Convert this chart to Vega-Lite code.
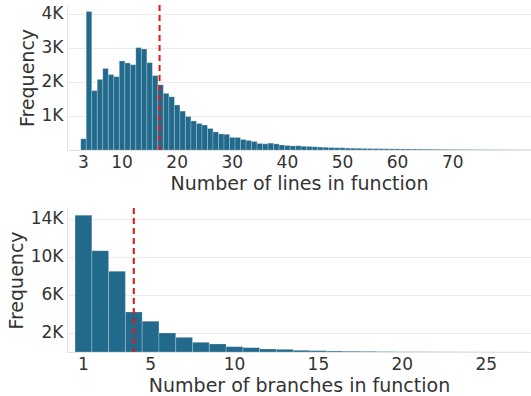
{
  "$schema": "https://vega.github.io/schema/vega-lite/v6.json",
  "padding": {"left": 7, "top": 4, "right": 0, "bottom": 2},
  "spacing": 14,
  "config": {
    "view": {"stroke": null},
    "font": "DejaVu Sans",
    "bar": {"binSpacing": 0},
    "axis": {
      "labelFont": "DejaVu Sans",
      "labelFontSize": 17,
      "labelColor": "#333333",
      "titleFont": "DejaVu Sans",
      "titleFontSize": 19,
      "titleFontWeight": "normal",
      "titleColor": "#333333",
      "ticks": false,
      "gridColor": "#ebebeb",
      "domainColor": "#e3e3e3",
      "labelPadding": 4,
      "titlePadding": 4
    }
  },
  "datasets": {
    "lines": [
      {"lines": 3, "count": 330}, {"lines": 4, "count": 4060}, {"lines": 5, "count": 1740},
      {"lines": 6, "count": 2070}, {"lines": 7, "count": 2390}, {"lines": 8, "count": 2210},
      {"lines": 9, "count": 2150}, {"lines": 10, "count": 2610}, {"lines": 11, "count": 2550},
      {"lines": 12, "count": 2500}, {"lines": 13, "count": 3000}, {"lines": 14, "count": 2960},
      {"lines": 15, "count": 2560}, {"lines": 16, "count": 2180}, {"lines": 17, "count": 1910},
      {"lines": 18, "count": 1660}, {"lines": 19, "count": 1560}, {"lines": 20, "count": 1320},
      {"lines": 21, "count": 1140}, {"lines": 22, "count": 980}, {"lines": 23, "count": 850},
      {"lines": 24, "count": 780}, {"lines": 25, "count": 730}, {"lines": 26, "count": 630},
      {"lines": 27, "count": 530}, {"lines": 28, "count": 470}, {"lines": 29, "count": 460},
      {"lines": 30, "count": 370}, {"lines": 31, "count": 370}, {"lines": 32, "count": 310},
      {"lines": 33, "count": 280}, {"lines": 34, "count": 250}, {"lines": 35, "count": 190},
      {"lines": 36, "count": 180}, {"lines": 37, "count": 200}, {"lines": 38, "count": 180},
      {"lines": 39, "count": 150}, {"lines": 40, "count": 130}, {"lines": 41, "count": 120},
      {"lines": 42, "count": 125}, {"lines": 43, "count": 110}, {"lines": 44, "count": 100},
      {"lines": 45, "count": 95}, {"lines": 46, "count": 85}, {"lines": 47, "count": 80},
      {"lines": 48, "count": 70}, {"lines": 49, "count": 68}, {"lines": 50, "count": 65},
      {"lines": 51, "count": 55}, {"lines": 52, "count": 52}, {"lines": 53, "count": 50},
      {"lines": 54, "count": 45}, {"lines": 55, "count": 42}, {"lines": 56, "count": 40},
      {"lines": 57, "count": 38}, {"lines": 58, "count": 35}, {"lines": 59, "count": 33},
      {"lines": 60, "count": 32}, {"lines": 61, "count": 30}, {"lines": 62, "count": 28},
      {"lines": 63, "count": 27}, {"lines": 64, "count": 25}, {"lines": 65, "count": 24},
      {"lines": 66, "count": 22}, {"lines": 67, "count": 20}, {"lines": 68, "count": 19},
      {"lines": 69, "count": 18}, {"lines": 70, "count": 16}, {"lines": 71, "count": 15},
      {"lines": 72, "count": 14}, {"lines": 73, "count": 13}, {"lines": 74, "count": 12},
      {"lines": 75, "count": 11}, {"lines": 76, "count": 10}, {"lines": 77, "count": 9},
      {"lines": 78, "count": 9}, {"lines": 79, "count": 8}, {"lines": 80, "count": 7},
      {"lines": 81, "count": 7}, {"lines": 82, "count": 6}, {"lines": 83, "count": 5},
      {"lines": 84, "count": 5}
    ],
    "branches": [
      {"branches": 1, "count": 14400}, {"branches": 2, "count": 10660}, {"branches": 3, "count": 8490},
      {"branches": 4, "count": 4210}, {"branches": 5, "count": 3230}, {"branches": 6, "count": 2000},
      {"branches": 7, "count": 1540}, {"branches": 8, "count": 1020}, {"branches": 9, "count": 840},
      {"branches": 10, "count": 560}, {"branches": 11, "count": 460}, {"branches": 12, "count": 320},
      {"branches": 13, "count": 280}, {"branches": 14, "count": 180}, {"branches": 15, "count": 140},
      {"branches": 16, "count": 100}, {"branches": 17, "count": 80}, {"branches": 18, "count": 70},
      {"branches": 19, "count": 45}, {"branches": 20, "count": 32}, {"branches": 21, "count": 28},
      {"branches": 22, "count": 22}, {"branches": 23, "count": 18}, {"branches": 24, "count": 14},
      {"branches": 25, "count": 10}, {"branches": 26, "count": 8}, {"branches": 27, "count": 6}
    ],
    "means": [
      {"metric": "lines", "mean": 16.9},
      {"metric": "branches", "mean": 4.03}
    ]
  },
  "vconcat": [
    {
      "width": 464,
      "height": 145,
      "layer": [
        {
          "data": {"name": "lines"},
          "mark": {"type": "bar", "color": "#226a8c", "stroke": "#ffffff", "strokeOpacity": 0.45, "strokeWidth": 0.5, "clip": true},
          "encoding": {
            "x": {
              "field": "lines", "type": "quantitative",
              "bin": {"step": 1, "extent": [2.5, 84.5], "nice": false},
              "scale": {"domain": [0.1, 84.3], "nice": false, "zero": false},
              "axis": {"values": [3, 10, 20, 30, 40, 50, 60, 70], "title": "Number of lines in function"}
            },
            "y": {
              "aggregate": "sum", "field": "count", "type": "quantitative",
              "scale": {"domain": [0, 4250], "nice": false},
              "axis": {"values": [1000, 2000, 3000, 4000], "labelExpr": "(datum.value / 1000) + 'K'", "title": "Frequency"}
            }
          }
        },
        {
          "data": {"name": "means"},
          "transform": [{"filter": "datum.metric === 'lines'"}],
          "mark": {"type": "rule", "color": "#ee1111", "strokeWidth": 2, "strokeDash": [6, 4]},
          "encoding": {"x": {"field": "mean", "type": "quantitative"}}
        }
      ]
    },
    {
      "width": 464,
      "height": 144,
      "layer": [
        {
          "data": {"name": "branches"},
          "mark": {"type": "bar", "color": "#226a8c", "stroke": "#ffffff", "strokeOpacity": 0.45, "strokeWidth": 0.5, "clip": true},
          "encoding": {
            "x": {
              "field": "branches", "type": "quantitative",
              "bin": {"step": 1, "extent": [0.5, 27.5], "nice": false},
              "scale": {"domain": [0.05, 27.7], "nice": false, "zero": false},
              "axis": {"values": [1, 5, 10, 15, 20, 25], "title": "Number of branches in function"}
            },
            "y": {
              "aggregate": "sum", "field": "count", "type": "quantitative",
              "scale": {"domain": [0, 15150], "nice": false},
              "axis": {"values": [2000, 6000, 10000, 14000], "labelExpr": "(datum.value / 1000) + 'K'", "title": "Frequency"}
            }
          }
        },
        {
          "data": {"name": "means"},
          "transform": [{"filter": "datum.metric === 'branches'"}],
          "mark": {"type": "rule", "color": "#ee1111", "strokeWidth": 2, "strokeDash": [6, 4]},
          "encoding": {"x": {"field": "mean", "type": "quantitative"}}
        }
      ]
    }
  ]
}
